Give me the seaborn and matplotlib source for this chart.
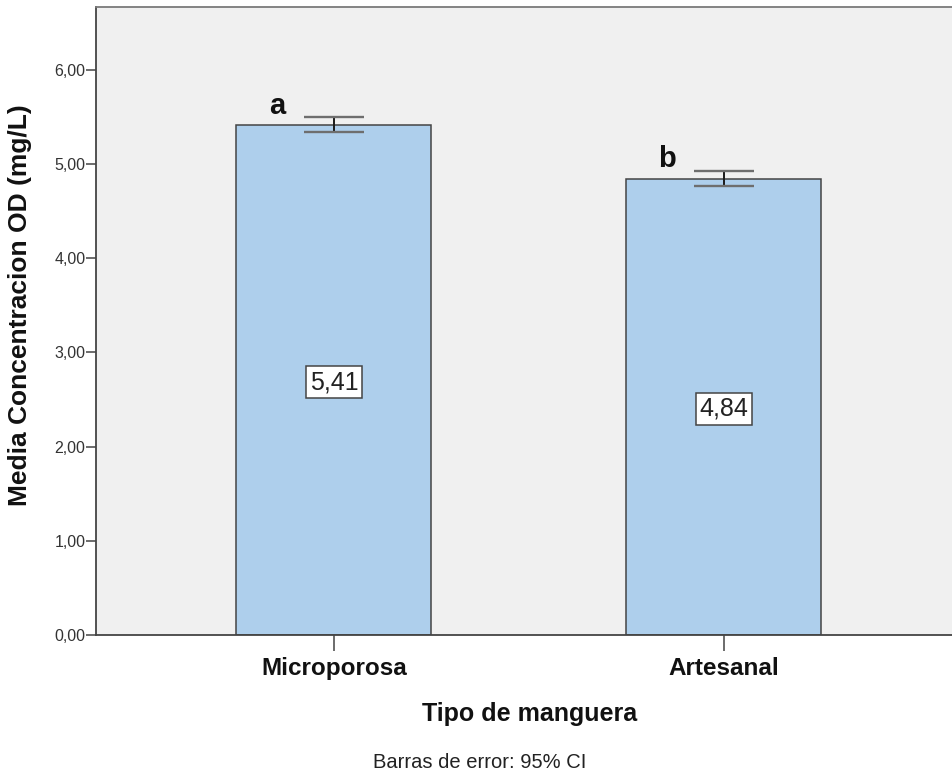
import matplotlib
matplotlib.use("Agg")
import matplotlib.pyplot as plt
from matplotlib.ticker import FuncFormatter, FixedLocator
import seaborn as sns
import pandas as pd

categories = ["Microporosa", "Artesanal"]
means = [5.41, 4.84]
ci_low = [5.34, 4.77]
ci_high = [5.50, 4.93]
letters = ["a", "b"]
y_ticks = [0, 1, 2, 3, 4, 5, 6]

sns.set_style("white")
plt.rcParams["font.family"] = ["Liberation Sans", "DejaVu Sans"]

df = pd.DataFrame({"tipo": categories, "media": means})

W, H = 953, 771
fig = plt.figure(figsize=(W / 100, H / 100), dpi=100)
ax_w = 1 - 96 / W + 0.01
ax = fig.add_axes([96 / W, 1 - 635 / H, ax_w, (635 - 7) / H])
ax.set_facecolor("#F0F0F0")

sns.barplot(data=df, x="tipo", y="media", color="#AECFEC", width=0.5,
            edgecolor="#444444", linewidth=1.1, errorbar=None, saturation=1, ax=ax)

xs = list(range(len(categories)))
lo = [m - l for m, l in zip(means, ci_low)]
hi = [h - m for m, h in zip(means, ci_high)]
eb = ax.errorbar(xs, means, yerr=[lo, hi], fmt="none", ecolor="#1a1a1a",
                 elinewidth=1.4, capsize=21.5, capthick=1.7, zorder=5)
for cap in eb[1]:
    cap.set_markeredgecolor("#6e6e6e")
    cap.set_color("#6e6e6e")

for i, (m, lab) in enumerate(zip(means, letters)):
    ax.text(i - 0.146, ci_high[i] + 0.035, lab, ha="center", va="baseline",
            fontsize=21, fontweight="bold", color="#111111")
    ax.text(i, m / 2 - 0.02, f"{m:.2f}".replace(".", ","), ha="center", va="center",
            fontsize=18, color="#222222",
            bbox=dict(boxstyle="square,pad=0.15", facecolor="white",
                      edgecolor="#444444", linewidth=1.1))

ax.set_xlim(-0.61, 1.612)
ax.set_ylim(0, 6.667)
ax.yaxis.set_major_locator(FixedLocator(y_ticks))
ax.yaxis.set_major_formatter(FuncFormatter(lambda v, p: f"{v:.2f}".replace(".", ",")))

ax.tick_params(axis="y", which="major", left=True, length=7.2, width=1.1,
               color="#444444", labelsize=11.5, labelcolor="#333333", pad=0.5)
ax.tick_params(axis="x", which="major", bottom=True, length=11.5, width=1.1,
               color="#444444", labelsize=17.5, pad=4)
for t in ax.get_xticklabels():
    t.set_fontweight("bold")
    t.set_color("#111111")

for s in ["left", "bottom"]:
    ax.spines[s].set_color("#444444")
    ax.spines[s].set_linewidth(1.3)
ax.spines["top"].set_color("#7a7a7a")
ax.spines["top"].set_linewidth(1.3)
ax.spines["right"].set_visible(False)

ax_wpx = ax_w * W
ax.set_xlabel("Tipo de manguera", fontsize=18, fontweight="bold", color="#111111")
ax.xaxis.label.set_va("center")
ax.xaxis.set_label_coords((530 - 96) / ax_wpx, -(714 - 635) / 628)
ax.set_ylabel("Media Concentracion OD (mg/L)", fontsize=19, fontweight="bold",
              color="#111111")
ax.yaxis.label.set_va("center")
ax.yaxis.set_label_coords(-(96 - 20) / ax_wpx, (635 - 305) / 628)

fig.text(480 / W, 1 - 762 / H, "Barras de error: 95% CI", ha="center", va="center",
         fontsize=14.5, color="#222222")

fig.savefig("out.png", dpi=100)
